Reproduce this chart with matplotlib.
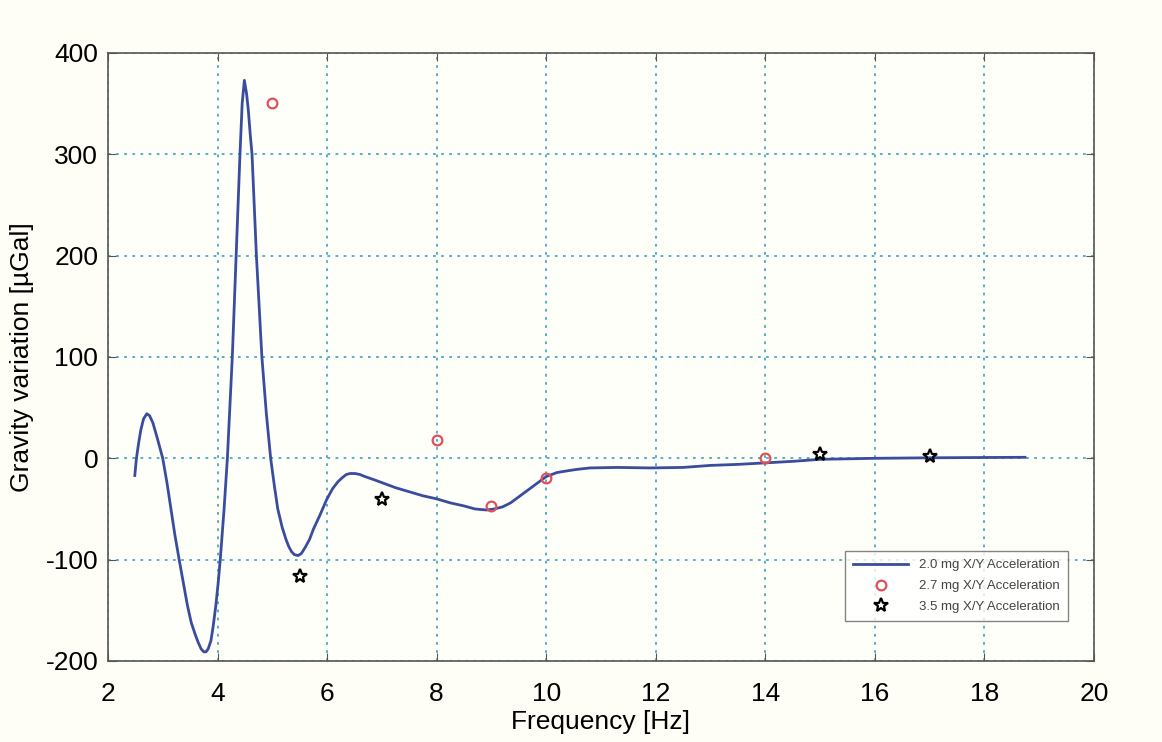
import matplotlib.pyplot as plt

plt.rcParams['font.family'] = ['Liberation Sans', 'DejaVu Sans']
plt.rcParams['axes.unicode_minus'] = False

# 2.0 mg X/Y acceleration curve
freq_line = [2.49, 2.52, 2.56, 2.60, 2.65, 2.71, 2.76, 2.82, 2.90, 2.95,
             3.00, 3.08, 3.15, 3.22, 3.30, 3.38, 3.45, 3.52, 3.60, 3.65,
             3.70, 3.75, 3.79, 3.83, 3.88, 3.92, 3.97, 4.01, 4.05, 4.12,
             4.18, 4.27, 4.34, 4.41, 4.45, 4.49, 4.53, 4.56, 4.60, 4.63,
             4.71, 4.81, 4.89, 4.97, 5.04, 5.10, 5.18, 5.25, 5.30, 5.35,
             5.40, 5.47, 5.53, 5.60, 5.68, 5.75, 5.87, 5.99, 6.10, 6.20,
             6.28, 6.35, 6.42, 6.51, 6.60, 6.69, 6.85, 7.00, 7.25, 7.50,
             7.75, 8.00, 8.25, 8.50, 8.70, 8.91, 9.05, 9.20, 9.35, 9.50,
             9.65, 9.80, 9.90, 10.00, 10.20, 10.37, 10.55, 10.80, 11.30, 11.90,
             12.50, 13.00, 13.50, 14.00, 14.50, 15.00, 15.50, 16.00, 17.00, 18.00,
             18.74]
grav_line = [-17, 0, 15, 28, 39, 44, 42, 35, 20, 10,
             0, -25, -50, -75, -100, -124, -145, -162, -175, -182,
             -188, -191, -191, -188, -180, -166, -145, -124, -100, -50,
             0, 100, 200, 300, 350, 373, 360, 345, 318, 300,
             200, 100, 45, 0, -28, -50, -68, -80, -87, -92,
             -95, -96, -94, -88, -80, -70, -56, -41, -30, -23,
             -19, -16, -15, -15, -16, -18, -21, -24, -29, -33,
             -37, -40, -44, -47, -50, -51, -50, -48, -44, -38,
             -32, -26, -22, -18, -14, -12.5, -11, -9.5, -9, -9.5,
             -9, -7, -6, -4.5, -3, -1, -0.5, 0, 0.5, 0.8,
             1]

# 2.7 mg X/Y acceleration points
freq_circ = [5, 8, 9, 10, 14]
grav_circ = [351, 18, -47, -19, 0]

# 3.5 mg X/Y acceleration points
freq_star = [5.5, 7, 15, 17]
grav_star = [-116, -40, 4, 2]

fig = plt.figure(figsize=(11.62, 7.42), dpi=100, facecolor='#fffef6')
ax = fig.add_axes([0.0929, 0.1092, 0.8486, 0.8194], facecolor='#fffffa')

ax.plot(freq_line, grav_line, color='#3a4c9e', lw=2, label='2.0 mg X/Y Acceleration')
ax.plot(freq_circ, grav_circ, 'o', ms=7, mfc='none', mec='#e0505a', mew=1.6,
        label='2.7 mg X/Y Acceleration')
ax.plot(freq_star, grav_star, '*', ms=10, mfc='none', mec='black', mew=1.6,
        label='3.5 mg X/Y Acceleration')

ax.set_xlim(2, 20)
ax.set_ylim(-200, 400)
ax.set_xticks(range(2, 21, 2))
ax.set_yticks(range(-200, 401, 100))
ax.grid(True, color='#4aa8c0', ls=(0, (1.5, 3)), lw=1.3)
ax.tick_params(direction='in', top=True, right=True, labelsize=19, length=6,
               color='#555555', pad=7)
ax.tick_params(axis='x', pad=15)
for s in ax.spines.values():
    s.set_color('#555555')
    s.set_linewidth(1.2)

ax.set_xlabel('Frequency [Hz]', fontsize=19, labelpad=3)
ax.set_ylabel('Gravity variation [µGal]', fontsize=19, labelpad=8)

leg = ax.legend(loc='lower right', bbox_to_anchor=(0.98, 0.055), fontsize=9.5,
                frameon=True, fancybox=False, edgecolor='#666666',
                handlelength=4.2, borderpad=0.6, labelspacing=0.65)
leg.get_frame().set_linewidth(1.0)
for t in leg.get_texts():
    t.set_color('#444444')

fig.savefig('out.png', dpi=100, facecolor=fig.get_facecolor())
